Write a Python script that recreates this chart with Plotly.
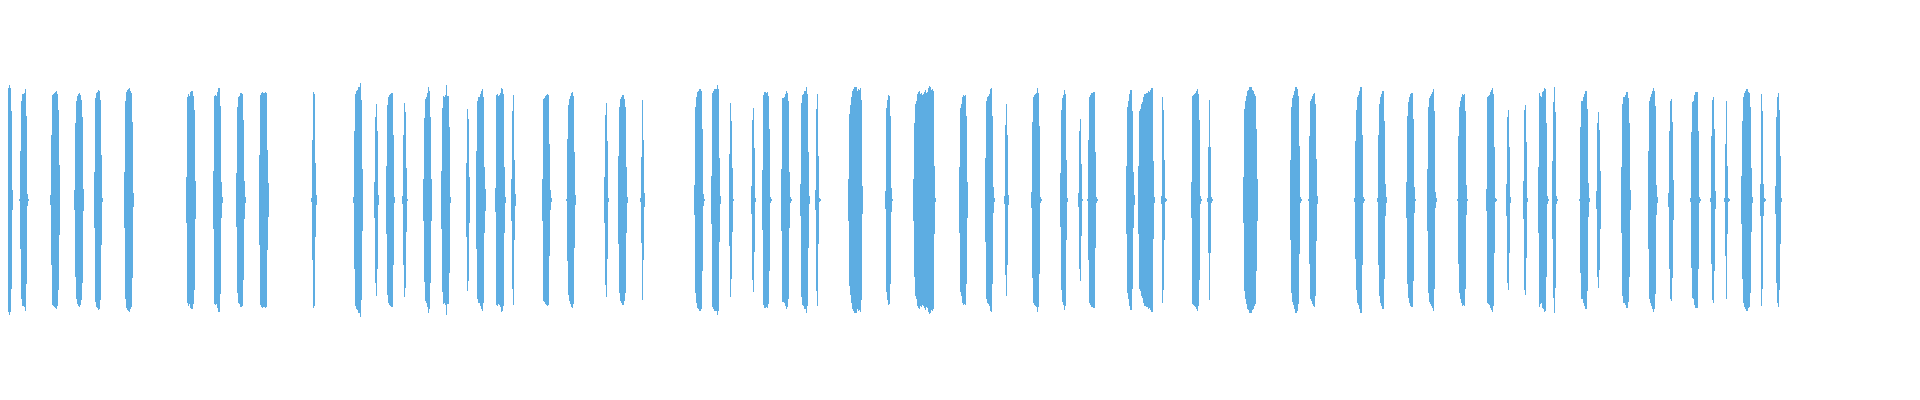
import plotly.graph_objects as go

# Waveform: each burst starts at a pixel column and lists its per-column amplitude (half-height, px units)
burst_start = [2, 19, 50, 74, 94, 124, 186, 213, 236, 259, 311,
               353, 374, 386, 402, 423, 441, 466, 476, 495, 511, 542, 566, 604, 618,
               640, 694, 711, 729, 751, 762, 781, 800, 815, 848, 885, 913, 959,
               985, 1004, 1031, 1060, 1078, 1087, 1126, 1138, 1161, 1191, 1207, 1243,
               1290, 1308, 1354, 1377, 1406, 1427, 1457, 1486, 1506, 1523, 1538, 1552, 1579, 1596,
               1621, 1648, 1668, 1690, 1710, 1724, 1741, 1760, 1775]

burst_amp = [
    [1, 55, 101, 109, 107, 107, 112, 115, 112, 89, 10],
    [1, 49, 99, 106, 106, 107, 111, 84, 6, 1],
    [5, 65, 105, 106, 107, 108, 109, 106, 90, 35],
    [10, 77, 99, 104, 106, 107, 105, 100, 83, 11],
    [28, 102, 107, 108, 110, 109, 100, 45, 2],
    [28, 99, 108, 110, 111, 112, 109, 107, 78, 7],
    [23, 103, 106, 104, 108, 109, 109, 104, 90, 19],
    [29, 104, 105, 104, 108, 112, 112, 94, 18, 3],
    [27, 93, 103, 104, 107, 107, 106, 80, 19, 3],
    [45, 105, 107, 108, 107, 107, 108, 107, 50, 17],
    [2, 60, 108, 106, 37, 5],
    [3, 69, 106, 109, 110, 113, 113, 117, 100, 31],
    [18, 83, 96, 69, 5],
    [34, 95, 103, 105, 106, 107, 107, 65, 3],
    [4, 65, 97, 88, 32, 1],
    [21, 82, 101, 103, 107, 113, 109, 83, 21],
    [29, 92, 104, 103, 105, 115, 104, 104, 73, 3],
    [37, 91, 81, 23],
    [49, 99, 103, 103, 106, 109, 111, 103, 33, 11],
    [12, 105, 106, 104, 105, 107, 112, 111, 106, 33, 3],
    [21, 89, 105, 40, 6],
    [21, 101, 102, 104, 105, 106, 105, 56, 10, 2],
    [1, 61, 95, 101, 104, 107, 108, 104, 48, 5],
    [23, 85, 97, 59, 2],
    [44, 93, 101, 103, 105, 105, 101, 93, 33, 3],
    [2, 43, 100, 60, 7],
    [15, 93, 103, 108, 109, 111, 111, 109, 71, 6, 1],
    [24, 107, 109, 111, 111, 111, 115, 111, 42, 4],
    [46, 97, 79, 32, 1],
    [14, 80, 92, 52, 2],
    [30, 105, 108, 108, 107, 108, 104, 71, 3, 1],
    [31, 102, 102, 103, 106, 109, 107, 99, 28, 3, 1],
    [16, 97, 105, 106, 109, 109, 113, 106, 48, 4],
    [10, 91, 106, 44, 2, 1],
    [21, 86, 95, 103, 109, 111, 113, 113, 113, 109, 111, 110, 112, 100, 14],
    [9, 92, 100, 105, 104, 84, 12, 1],
    [21, 77, 96, 99, 106, 108, 109, 106, 107, 105, 106, 108, 110, 107, 108, 112, 114, 113, 110, 111, 109, 34, 2],
    [33, 92, 96, 103, 105, 104, 105, 84, 18],
    [42, 99, 103, 104, 106, 111, 112, 84, 13, 2],
    [4, 75, 96, 65, 5],
    [8, 78, 103, 105, 106, 107, 112, 107, 74, 3, 1],
    [27, 90, 102, 105, 110, 106, 40, 2],
    [7, 69, 81, 36, 1],
    [1, 60, 103, 105, 107, 107, 108, 108, 48, 3, 1],
    [34, 93, 99, 106, 110, 110, 89, 28, 5],
    [34, 89, 91, 96, 98, 103, 106, 106, 107, 107, 109, 108, 110, 112, 112, 39, 3],
    [4, 103, 90, 40, 2, 1],
    [18, 104, 105, 106, 107, 109, 111, 106, 80, 4, 1],
    [2, 53, 100, 53, 3, 1],
    [23, 91, 99, 104, 109, 110, 113, 113, 113, 110, 109, 106, 104, 71, 21],
    [40, 93, 102, 105, 109, 113, 113, 111, 104, 54, 3, 1],
    [1, 64, 99, 101, 104, 106, 107, 96, 41, 4],
    [2, 59, 90, 103, 105, 109, 113, 113, 65, 3, 1],
    [2, 65, 96, 103, 106, 109, 109, 79, 16, 3],
    [18, 84, 98, 103, 106, 107, 107, 81, 13, 1],
    [31, 93, 102, 104, 106, 108, 111, 89, 8, 2],
    [1, 64, 93, 99, 103, 106, 105, 106, 89, 15, 1],
    [11, 103, 104, 105, 108, 110, 112, 106, 53, 2, 1],
    [16, 83, 90, 53, 3],
    [19, 90, 95, 58, 2],
    [33, 107, 104, 103, 108, 109, 112, 111, 77, 4, 1],
    [39, 98, 113, 88, 4, 1],
    [1, 73, 99, 99, 103, 106, 109, 109, 91, 17, 2],
    [9, 77, 88, 70, 29],
    [33, 96, 103, 103, 105, 108, 108, 102, 77, 10],
    [49, 99, 103, 106, 109, 112, 109, 94, 15, 3],
    [7, 69, 99, 101, 78, 20],
    [2, 68, 98, 99, 105, 108, 108, 108, 69, 3, 1],
    [2, 64, 100, 103, 71, 9],
    [2, 56, 99, 34, 2, 1],
    [24, 79, 103, 107, 109, 111, 111, 108, 107, 93, 32, 3],
    [16, 106, 89, 16, 2, 1],
    [14, 83, 103, 107, 90, 44, 2],
]

xs, bases, heights = [], [], []
for s, amps in zip(burst_start, burst_amp):
    for i, a in enumerate(amps):
        xs.append(s + i + 0.5)
        bases.append(-a)
        heights.append(2 * a)

fig = go.Figure(go.Bar(
    x=xs, y=heights, base=bases, width=1,
    marker=dict(color="#5DADE2", line=dict(width=0)),
    hoverinfo="skip",
))
fig.update_layout(
    width=1920, height=400,
    margin=dict(l=0, r=0, t=0, b=0),
    paper_bgcolor="white", plot_bgcolor="white",
    showlegend=False, bargap=0,
)
# ranges offset to compensate for the page's 8px body margin
fig.update_xaxes(visible=False, range=[8, 1928])
fig.update_yaxes(visible=False, range=[-208.5, 191.5])
fig.write_html("out.html")
